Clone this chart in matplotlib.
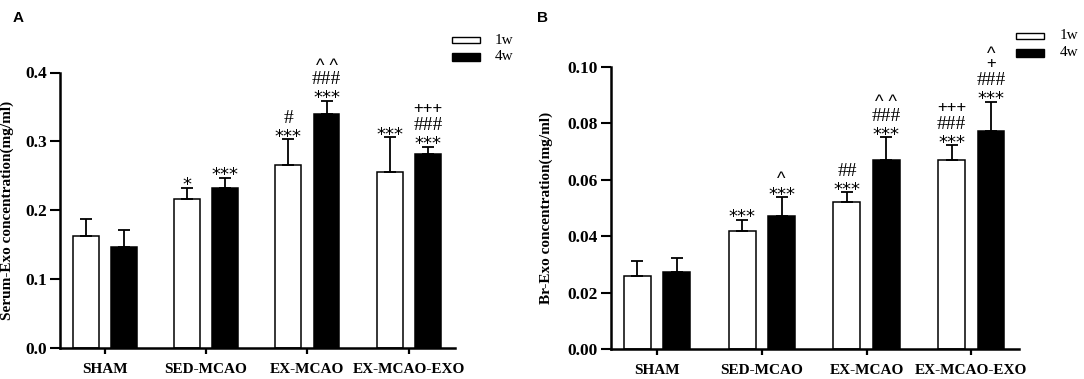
import matplotlib
matplotlib.use("Agg")
import matplotlib.pyplot as plt
from matplotlib.patches import Rectangle
import numpy as np

# ---------------- data ----------------
groups = ["SHAM", "SED-MCAO", "EX-MCAO", "EX-MCAO-EXO"]
series = ["1w", "4w"]

A_1w = [0.163, 0.216, 0.265, 0.256]
A_1w_err = [0.024, 0.017, 0.038, 0.050]
A_4w = [0.146, 0.232, 0.340, 0.282]
A_4w_err = [0.026, 0.015, 0.019, 0.010]
A_marks_1w = [[], ["*"], ["***", "#"], ["***"]]
A_marks_4w = [[], ["***"], ["***", "###", "^ ^"], ["***", "###", "+++"]]
A_yticks = [0.0, 0.1, 0.2, 0.3, 0.4]
A_ylabel = "Serum-Exo concentration(mg/ml)"

B_1w = [0.0259, 0.0417, 0.0521, 0.0671]
B_1w_err = [0.0053, 0.0041, 0.0035, 0.0050]
B_4w = [0.0272, 0.0470, 0.0668, 0.0773]
B_4w_err = [0.0050, 0.0068, 0.0082, 0.0103]
B_marks_1w = [[], ["***"], ["***", "##"], ["***", "###", "+++"]]
B_marks_4w = [[], ["***", "^"], ["***", "###", "^ ^"], ["***", "###", "+", "^"]]
B_yticks = [0.00, 0.02, 0.04, 0.06, 0.08, 0.10]
B_ylabel = "Br-Exo concentration(mg/ml)"

W, H = 1084, 379
fig = plt.figure(figsize=(W / 100, H / 100), dpi=100)

SERIF = "Liberation Serif"

# glyph settings: (family, size, ink-centre above baseline in px)
def glyph_style(s):
    c = s.strip()[0]
    if c == "*":
        return "DejaVu Sans", 13, 10.5
    if c == "#":
        return SERIF, 14, 6.6
    if c == "+":
        return "Liberation Sans", 12, 5.9
    return "Liberation Sans", 13, 9.4  # caret

LEVELS = [8.0, 23.0, 39.5, 52.0]


def panel(rect, v1, e1, v2, e2, m1, m2, yticks, ylabel, ylab_x, fmt):
    ax = fig.add_axes(rect)
    x = np.arange(len(groups))
    off, bw = 0.188, 0.256
    ax.bar(x - off, v1, bw, color="white", edgecolor="black", linewidth=1.1, zorder=2)
    ax.bar(x + off, v2, bw, color="black", edgecolor="black", linewidth=1.1, zorder=2)
    for xs, v, e in ((x - off, v1, e1), (x + off, v2, e2)):
        ax.errorbar(xs, v, yerr=[np.zeros(len(v)), e], fmt="none", ecolor="black",
                    elinewidth=1.3, capsize=4.5, capthick=1.3, zorder=3)
    for xs, v, e, marks in ((x - off, v1, e1, m1), (x + off, v2, e2, m2)):
        for xi, vi, ei, ml in zip(xs, v, e, marks):
            for lvl, s in enumerate(ml):
                fam, fs, ink = glyph_style(s)
                ax.annotate(s, xy=(xi, vi + ei), xytext=(0, LEVELS[lvl] - ink),
                            textcoords="offset pixels", ha="center", va="baseline",
                            family=fam, fontsize=fs, annotation_clip=False)
    ax.set_xlim(-0.44, 3.455)
    ax.set_ylim(yticks[0], yticks[-1])
    ax.set_yticks(yticks)
    ax.set_yticklabels([fmt.format(t) for t in yticks], family=SERIF,
                       fontweight="bold", fontsize=12.5)
    ax.set_xticks(x)
    ax.set_xticklabels(groups, family=SERIF, fontweight="bold", fontsize=11)
    for s in ("top", "right"):
        ax.spines[s].set_visible(False)
    for s in ("left", "bottom"):
        ax.spines[s].set_linewidth(1.8)
    ax.tick_params(axis="y", direction="out", length=7, width=1.5, pad=2.5)
    ax.tick_params(axis="x", direction="out", length=4.5, width=1.6, pad=6)
    ax.set_ylabel(ylabel, family=SERIF, fontweight="bold", fontsize=11)
    ax.yaxis.set_label_coords(ylab_x, 0.5)
    return ax


def px_rect(l, t, r, b):
    return [l / W, 1 - b / H, (r - l) / W, (b - t) / H]


axA = panel(px_rect(60, 72.5, 455, 348), A_1w, A_1w_err, A_4w, A_4w_err,
            A_marks_1w, A_marks_4w, A_yticks, A_ylabel, (14 - 60) / 395, "{:.1f}")
axB = panel(px_rect(611, 66.7, 1019, 349), B_1w, B_1w_err, B_4w, B_4w_err,
            B_marks_1w, B_marks_4w, B_yticks, B_ylabel, (553 - 611) / 408, "{:.2f}")


def legend(x0, x1, rows_y, text_x):
    for (yt, yb), face, lab in zip(rows_y, ["white", "black"], series):
        fig.patches.append(Rectangle((x0 / W, 1 - yb / H), (x1 - x0) / W, (yb - yt) / H,
                                     transform=fig.transFigure, facecolor=face,
                                     edgecolor="black", linewidth=1.0))
        fig.text(text_x / W, 1 - (yt + yb) / 2 / H, lab, family=SERIF, fontsize=11,
                 va="center", ha="left")


legend(452, 480, [(37, 43.3), (52.5, 60.5)], 495)
legend(1016, 1044, [(32.5, 39.3), (49, 56.7)], 1060)

fig.text(13 / W, 1 - 22 / H, "A", family="Liberation Sans", fontweight="bold", fontsize=11)
fig.text(537 / W, 1 - 22 / H, "B", family="Liberation Sans", fontweight="bold", fontsize=11)

fig.savefig("out.png", dpi=100, facecolor="white")
